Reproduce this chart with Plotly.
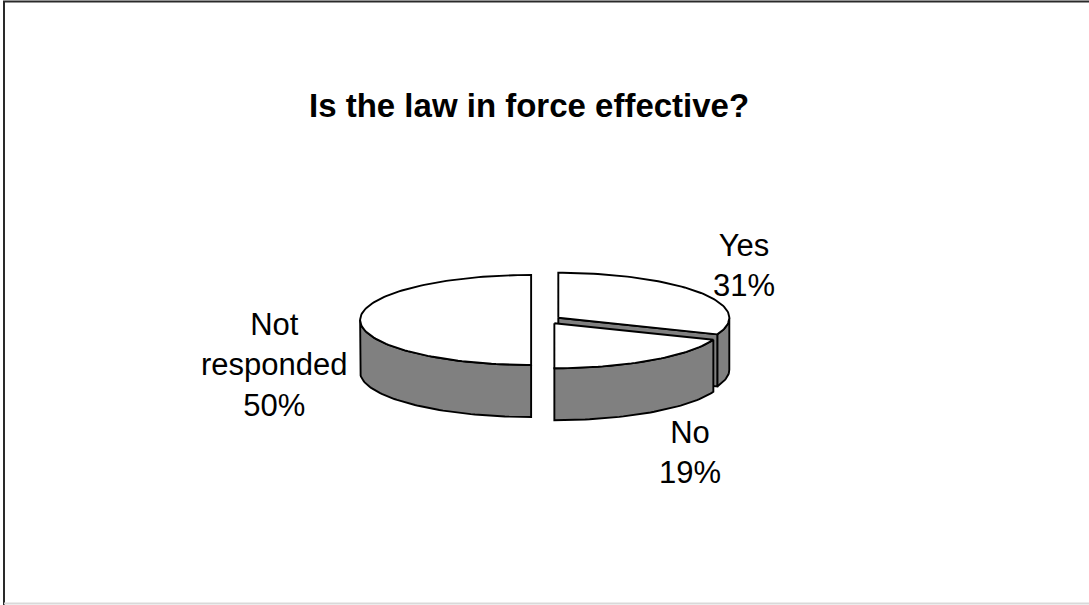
import numpy as np
import plotly.graph_objects as go

# ---- data ----
categories = ["Yes", "No", "Not responded"]
values = [31, 19, 50]
label_text = ["Yes", "No", "Not<br>responded"]
title_text = "Is the law in force effective?"

# ---- layout constants (pixel space) ----
W, H = 1089, 605
CX, CY = 546, 320          # pie centre
RX, RY = 171, 45           # ellipse radii of top face
DEPTH = 52                 # thickness of the pie
EXPLODE = 0.087            # explosion as fraction of radius
TOP_COLOR = "white"
SIDE_COLOR = "#808080"
EDGE = dict(color="black", width=1.9)
FONT = "Liberation Sans, Arial, sans-serif"
# label centres in pixel space, per category
label_pos = {"Yes": (744, 265), "No": (690, 452), "Not responded": (274, 365)}

total = float(sum(values))
fracs = [v / total for v in values]


def pt(cx, cy, ang_deg, dz=0.0):
    a = np.radians(ang_deg)
    return cx + RX * np.sin(a), cy - RY * np.cos(a) + dz


def arc(cx, cy, a0, a1, dz=0.0):
    angs = np.linspace(a0, a1, max(2, int(abs(a1 - a0) / 1.5) + 2))
    a = np.radians(angs)
    return list(cx + RX * np.sin(a)), list(cy - RY * np.cos(a) + dz)


fig = go.Figure()


def poly(xs, ys, color):
    fig.add_trace(go.Scatter(x=xs, y=ys, mode="lines", fill="toself",
                             fillcolor=color, line=EDGE, hoverinfo="skip",
                             showlegend=False))


slices = []
start = 0.0
for cat, f in zip(categories, fracs):
    a0, a1 = start, start + 360 * f
    mid = (a0 + a1) / 2
    m = np.radians(mid)
    cx = CX + EXPLODE * RX * np.sin(m)
    cy = CY - EXPLODE * RY * np.cos(m)
    slices.append((cat, a0, a1, mid, cx, cy))
    start = a1

# back to front drawing order
order = sorted(slices, key=lambda s: -np.cos(np.radians(s[3])))

for cat, a0, a1, mid, cx, cy in order:
    # outer rim (front half only: 90..270 deg)
    b0, b1 = max(a0, 90), min(a1, 270)
    if b1 > b0:
        xt, yt = arc(cx, cy, b0, b1)
        xb, yb = arc(cx, cy, b1, b0, DEPTH)
        poly(xt + xb + [xt[0]], yt + yb + [yt[0]], SIDE_COLOR)
    # radial cut faces facing the viewer
    for edge_ang, normal in ((a0, a0 - 90), (a1, a1 + 90)):
        if np.cos(np.radians(normal)) < -1e-6:
            ex, ey = pt(cx, cy, edge_ang)
            poly([cx, ex, ex, cx, cx], [cy, ey, ey + DEPTH, cy + DEPTH, cy], SIDE_COLOR)
    # top face
    xt, yt = arc(cx, cy, a0, a1)
    poly([cx] + xt + [cx], [cy] + yt + [cy], TOP_COLOR)

# labels
for cat, lt, v in zip(categories, label_text, values):
    x, y = label_pos[cat]
    fig.add_annotation(x=x, y=y, xref="x", yref="y", showarrow=False,
                       text=f"{lt}<br>{round(v / total * 100)}%",
                       font=dict(family=FONT, size=31, color="black"),
                       xanchor="center", yanchor="middle", align="center")

fig.add_annotation(x=529, y=105, xref="x", yref="y", showarrow=False,
                   text=f"<b>{title_text}</b>",
                   font=dict(family=FONT, size=33, color="black"),
                   xanchor="center", yanchor="middle")

# chart border
fig.add_shape(type="line", xref="x", yref="y", x0=4, x1=4, y0=1, y1=H,
              line=dict(color="#2a2a2a", width=2))
fig.add_shape(type="line", xref="x", yref="y", x0=3, x1=W, y0=1.5, y1=1.5,
              line=dict(color="#2a2a2a", width=2))
fig.add_shape(type="line", xref="x", yref="y", x0=4, x1=W, y0=603.5, y1=603.5,
              line=dict(color="#d9d9d9", width=2))

fig.update_layout(
    width=W, height=H, margin=dict(l=0, r=0, t=0, b=0),
    paper_bgcolor="white", plot_bgcolor="white",
    xaxis=dict(range=[0, W], visible=False, fixedrange=True),
    yaxis=dict(range=[H, 0], visible=False, fixedrange=True),
    showlegend=False,
)

fig.write_html("out.html")
